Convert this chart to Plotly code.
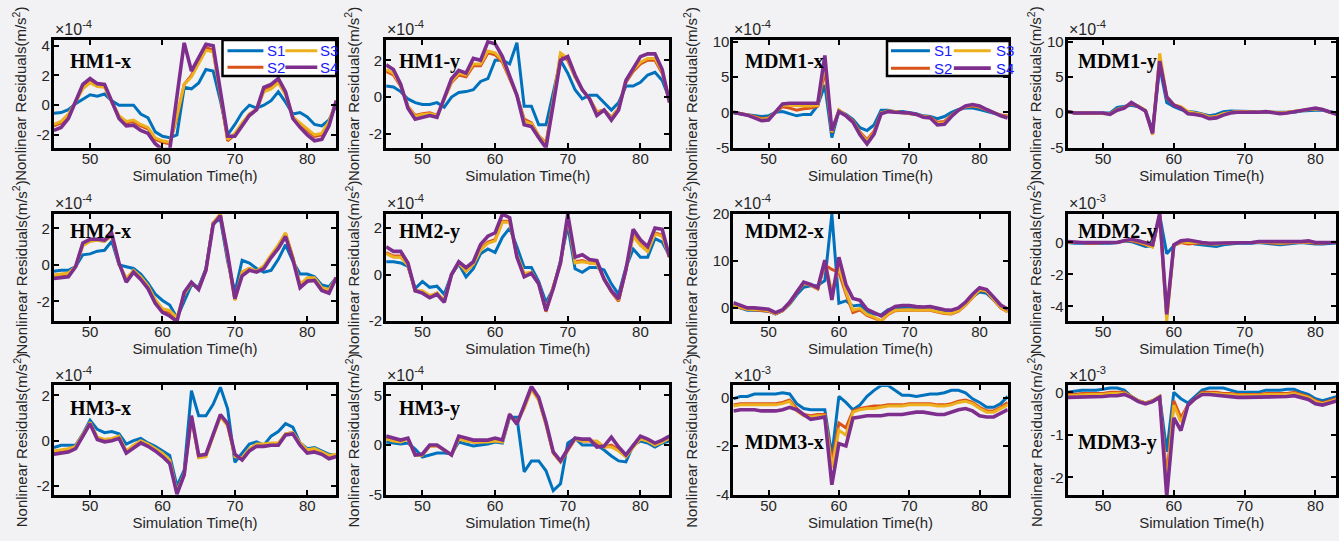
import plotly.graph_objects as go

W, H = 1339, 541

HOURS = [45, 46, 47, 48, 49, 50, 51, 52, 53, 54, 55, 56, 57, 58, 59, 60, 61, 62, 63, 64,
         65, 66, 67, 68, 69, 70, 71, 72, 73, 74, 75, 76, 77, 78, 79, 80, 81, 82, 83, 84]
SERIES_NAMES = ["S1", "S2", "S3", "S4"]

# ---------------- HM1-x (x1e-4) ----------------
HM1_X_S1 = [-0.55, -0.5, -0.3, 0.1, 0.4, 0.7, 0.6, 0.75, 0.3, 0.0, 0.0, 0.0, -0.6, -0.85, -1.8, -2.1, -2.2, -2.0, 1.2, 1.1,
            1.5, 2.4, 2.3, 0.3, -2.0, -1.3, -0.5, 0.0, -0.2, 0.0, 0.3, 0.9, 0.2, -0.6, -0.5, -0.8, -1.3, -1.4, -1.0, 0.0]
HM1_X_S2 = [-1.4, -1.2, -0.7, 0.2, 1.2, 1.6, 1.3, 1.3, 0.2, -0.8, -1.2, -1.1, -1.4, -1.6, -2.3, -2.5, -2.6, -0.8, 1.4, 2.0,
            3.0, 3.9, 3.7, 0.8, -2.4, -2.0, -1.3, -0.6, -0.3, 1.0, 1.2, 1.6, 0.8, -0.8, -1.3, -1.7, -2.1, -2.0, -1.2, 0.3]
HM1_X_S3 = [-1.3, -1.1, -0.6, 0.2, 1.1, 1.5, 1.25, 1.2, 0.2, -0.7, -1.1, -1.0, -1.3, -1.5, -2.2, -2.4, -2.5, -0.7, 1.4, 1.9,
            2.8, 3.7, 3.6, 0.8, -2.3, -1.9, -1.2, -0.6, -0.3, 0.9, 1.1, 1.5, 0.7, -0.8, -1.2, -1.6, -2.0, -1.9, -1.1, 0.3]
HM1_X_S4 = [-1.7, -1.5, -0.9, 0.2, 1.4, 1.8, 1.45, 1.4, 0.2, -0.9, -1.4, -1.35, -1.7, -1.9, -2.6, -3.0, -3.0, 0.6, 4.2, 2.3,
            3.2, 4.1, 4.0, 1.0, -2.1, -2.1, -1.4, -0.7, -0.3, 1.2, 1.4, 1.8, 0.9, -0.9, -1.5, -2.0, -2.4, -2.3, -1.4, 0.3]

# ---------------- HM1-y (x1e-4) ----------------
HM1_Y_S1 = [0.6, 0.55, 0.3, -0.1, -0.3, -0.4, -0.4, -0.3, -0.55, 0.0, 0.25, 0.3, 0.4, 0.85, 1.0, 2.0, 2.0, 1.8, 2.95, -0.5,
            -0.5, -1.5, -1.5, 0.25, 2.0, 1.3, 0.4, -0.1, 0.1, 0.1, -0.3, -0.7, -0.3, 0.6, 0.6, 0.8, 1.2, 1.35, 0.9, -0.1]
HM1_Y_S2 = [1.4, 1.2, 0.6, -0.5, -1.0, -0.9, -0.85, -1.0, -0.1, 0.8, 1.2, 1.1, 1.7, 1.7, 2.4, 2.3, 1.9, 1.0, 0.1, -1.2,
            -1.4, -2.1, -2.5, -0.2, 2.3, 2.0, 1.1, 0.4, -0.1, -0.8, -0.7, -1.1, -0.6, 0.8, 1.4, 1.8, 2.0, 2.0, 1.3, -0.2]
HM1_Y_S3 = [1.5, 1.3, 0.65, -0.5, -1.05, -0.95, -0.9, -1.0, -0.1, 0.85, 1.3, 1.2, 1.8, 1.8, 2.5, 2.4, 2.0, 1.0, 0.1, -1.3,
            -1.45, -2.1, -2.6, -0.2, 2.4, 2.1, 1.1, 0.4, -0.1, -0.85, -0.7, -1.15, -0.6, 0.85, 1.5, 1.9, 2.1, 2.1, 1.4, -0.2]
HM1_Y_S4 = [1.75, 1.5, 0.7, -0.6, -1.2, -1.1, -1.0, -1.1, -0.1, 1.0, 1.45, 1.3, 2.1, 2.0, 3.0, 2.9, 2.2, 1.1, 0.1, -1.5,
            -1.6, -2.2, -2.75, -0.4, 2.0, 2.2, 1.2, 0.4, -0.1, -1.0, -0.7, -1.25, -0.7, 0.9, 1.6, 2.2, 2.35, 2.35, 1.5, -0.3]

# ---------------- MDM1-x (x1e-4) ----------------
MDM1_X_S1 = [-0.1, -0.2, -0.3, -0.4, -0.6, -0.5, 0.0, 0.1, -0.2, -0.5, -0.3, -0.3, 1.0, 3.9, -3.6, 0.2, -0.3, -1.0, -2.2, -2.6,
             -1.8, 0.3, 0.3, 0.1, 0.1, 0.0, -0.2, -0.5, -0.6, -0.9, -0.6, 0.0, 0.4, 0.6, 0.6, 0.4, 0.1, -0.2, -0.4, -0.6]
MDM1_X_S2 = [0.0, -0.2, -0.35, -0.6, -0.9, -0.8, 0.0, 0.8, 0.6, 0.3, 0.5, 0.6, 0.9, 6.0, -2.9, 0.3, -0.4, -1.2, -2.8, -3.9,
             -2.7, -0.1, 0.2, 0.1, 0.0, -0.1, -0.3, -0.6, -0.7, -1.4, -1.3, -0.4, 0.3, 0.8, 0.9, 0.7, 0.3, -0.1, -0.4, -0.5]
MDM1_X_S3 = [0.0, -0.2, -0.35, -0.7, -1.0, -0.9, 0.0, 1.0, 1.0, 0.9, 0.9, 0.9, 1.0, 7.0, -2.8, 0.3, -0.4, -1.3, -3.0, -4.1,
             -2.9, -0.1, 0.2, 0.1, 0.0, -0.1, -0.3, -0.6, -0.75, -1.6, -1.5, -0.5, 0.3, 0.8, 1.0, 0.8, 0.35, -0.1, -0.45, -0.6]
MDM1_X_S4 = [0.0, -0.2, -0.4, -0.8, -1.2, -1.1, 0.0, 1.2, 1.3, 1.3, 1.2, 1.2, 1.3, 8.1, -2.6, 0.1, -0.5, -1.4, -3.2, -4.5,
             -3.1, -0.2, 0.1, 0.0, 0.0, -0.1, -0.3, -0.7, -0.8, -1.8, -1.7, -0.6, 0.3, 0.9, 1.1, 0.9, 0.4, -0.1, -0.5, -0.8]

# ---------------- MDM1-y (x1e-4) ----------------
MDM1_Y_S1 = [0.1, -0.1, -0.1, -0.1, -0.1, -0.1, -0.1, 0.7, 0.8, 1.0, 0.8, 0.2, -2.5, 6.5, 1.4, 0.8, 0.4, 0.1, 0.0, -0.2,
             -0.5, -0.3, 0.1, 0.2, 0.2, 0.2, 0.1, 0.0, 0.0, 0.0, 0.0, -0.1, 0.0, 0.2, 0.3, 0.3, 0.3, 0.1, -0.1, -0.3]
MDM1_Y_S2 = [0.1, -0.1, -0.1, -0.1, -0.1, -0.1, -0.2, 0.4, 0.7, 1.2, 0.8, 0.2, -2.9, 7.8, 2.0, 1.0, 0.7, 0.0, -0.1, -0.3,
             -0.7, -0.6, -0.2, 0.0, 0.1, 0.1, 0.0, 0.0, 0.1, 0.0, -0.1, 0.0, 0.1, 0.3, 0.4, 0.5, 0.4, 0.0, -0.2, -0.4]
MDM1_Y_S3 = [0.1, -0.1, -0.1, -0.1, -0.1, -0.1, -0.2, 0.4, 0.7, 1.3, 0.9, 0.3, -3.2, 8.4, 2.2, 1.1, 0.8, 0.1, -0.1, -0.3,
             -0.7, -0.6, -0.2, 0.0, 0.1, 0.1, 0.0, 0.0, 0.1, 0.0, -0.1, 0.0, 0.1, 0.3, 0.4, 0.5, 0.4, 0.0, -0.2, -0.4]
MDM1_Y_S4 = [0.1, -0.1, -0.1, -0.1, -0.1, -0.1, -0.3, 0.3, 0.6, 1.4, 0.8, 0.2, -3.0, 7.3, 2.2, 1.0, 0.6, -0.2, -0.3, -0.5,
             -0.9, -0.8, -0.4, -0.1, 0.0, 0.0, -0.1, 0.0, 0.1, -0.1, -0.2, -0.1, 0.1, 0.3, 0.5, 0.6, 0.4, 0.0, -0.3, -0.4]

# ---------------- HM2-x (x1e-4) ----------------
HM2_X_S1 = [-0.35, -0.3, -0.3, -0.1, 0.55, 0.6, 0.75, 0.8, 1.3, 0.0, -0.1, -0.2, -0.5, -1.0, -1.6, -1.95, -2.2, -2.9, -2.0, -1.1,
            -1.2, -0.2, 2.3, 2.5, 0.2, -1.5, 0.25, 0.1, -0.2, -0.4, -0.3, 0.3, 1.1, 0.2, -0.5, -0.5, -0.65, -1.1, -1.2, -0.7]
HM2_X_S2 = [-0.6, -0.55, -0.5, -0.1, 1.1, 1.3, 1.35, 1.3, 1.6, 0.05, -0.8, -0.35, -0.7, -1.2, -2.0, -2.5, -2.6, -3.0, -1.6, -1.0,
            -1.3, -0.3, 2.3, 2.75, 0.5, -1.9, -0.4, -0.2, -0.35, -0.1, 0.5, 1.0, 1.7, 0.4, -1.1, -0.75, -0.75, -1.3, -1.4, -0.7]
HM2_X_S3 = [-0.55, -0.5, -0.45, -0.1, 1.05, 1.3, 1.35, 1.3, 1.65, 0.05, -0.75, -0.3, -0.65, -1.15, -1.9, -2.4, -2.5, -2.9, -1.6, -1.0,
            -1.3, -0.3, 2.3, 2.8, 0.5, -1.95, -0.4, -0.2, -0.35, -0.05, 0.55, 1.1, 1.75, 0.45, -1.1, -0.7, -0.7, -1.25, -1.35, -0.7]
HM2_X_S4 = [-0.75, -0.7, -0.65, -0.1, 1.2, 1.4, 1.4, 1.35, 1.7, 0.1, -0.95, -0.4, -0.8, -1.3, -2.1, -2.6, -2.8, -3.1, -1.5, -0.95,
            -1.35, -0.3, 2.2, 2.7, 0.6, -1.85, -0.6, -0.3, -0.4, -0.2, 0.4, 0.9, 1.55, 0.3, -1.25, -0.9, -0.85, -1.4, -1.55, -0.7]

# ---------------- HM2-y (x1e-4) ----------------
HM2_Y_S1 = [0.55, 0.55, 0.5, 0.35, -0.6, -0.3, -0.55, -0.5, -0.85, 0.0, 0.45, -0.1, 0.25, 0.9, 1.1, 0.95, 1.6, 2.0, 1.2, 0.3,
            0.3, -0.3, -1.2, -0.6, 0.6, 2.1, 0.25, 0.1, 0.3, 0.3, 0.2, -0.4, -0.85, 0.3, 1.1, 0.75, 0.75, 1.55, 1.4, 0.8]
HM2_Y_S2 = [0.95, 0.8, 0.8, 0.4, -0.7, -0.75, -0.95, -0.8, -1.15, 0.0, 0.5, 0.15, 0.45, 1.1, 1.4, 1.5, 2.3, 2.3, 0.8, 0.0,
            0.1, -0.4, -1.6, -0.6, 0.5, 2.5, 0.55, 0.6, 0.5, 0.5, -0.2, -0.75, -1.15, 0.2, 1.7, 1.3, 1.0, 1.8, 1.7, 0.75]
HM2_Y_S3 = [0.9, 0.75, 0.75, 0.4, -0.7, -0.7, -0.9, -0.8, -1.1, 0.0, 0.5, 0.15, 0.45, 1.05, 1.35, 1.45, 2.25, 2.25, 0.85, 0.05,
            0.1, -0.4, -1.5, -0.55, 0.5, 2.5, 0.5, 0.55, 0.5, 0.45, -0.15, -0.7, -1.1, 0.2, 1.65, 1.25, 1.0, 1.75, 1.65, 0.75]
HM2_Y_S4 = [1.2, 1.0, 1.0, 0.5, -0.7, -0.8, -1.0, -0.85, -1.2, 0.0, 0.55, 0.3, 0.55, 1.3, 1.65, 1.8, 2.6, 2.45, 0.75, -0.1,
            0.05, -0.4, -1.55, -0.6, 0.5, 2.6, 0.75, 0.85, 0.65, 0.6, -0.2, -0.7, -1.05, 0.2, 1.95, 1.5, 1.2, 2.0, 1.95, 0.75]

# ---------------- MDM2-x (x1e-4) ----------------
MDM2_X_S1 = [0.5, 0.0, -0.5, -0.5, -0.6, -0.7, -1.3, -0.6, 0.8, 2.8, 4.4, 4.7, 4.8, 5.8, 20.0, 1.0, 1.5, 0.4, 0.6, -0.8,
             -1.3, -1.5, -0.4, 0.0, 0.1, 0.1, 0.0, -0.1, 0.0, -0.5, -0.8, -0.8, -0.3, 0.8, 2.4, 3.4, 3.1, 1.7, 0.1, -0.7]
MDM2_X_S2 = [0.6, 0.0, -0.3, -0.4, -0.5, -0.7, -1.3, -0.6, 0.9, 3.2, 5.2, 4.8, 4.0, 9.2, 8.2, 7.6, 3.0, -1.0, -0.4, -1.6,
             -2.2, -2.8, -1.4, -0.6, -0.5, -0.5, -0.6, -0.6, -0.5, -0.9, -1.2, -1.3, -0.7, 0.6, 2.3, 3.8, 3.5, 1.8, 0.0, -0.9]
MDM2_X_S3 = [0.7, 0.1, -0.3, -0.3, -0.4, -0.6, -1.2, -0.5, 1.0, 3.3, 5.3, 4.9, 4.1, 9.8, 3.5, 8.8, 3.5, -0.5, -0.1, -1.4,
             -2.0, -2.8, -1.3, -0.5, -0.4, -0.4, -0.5, -0.5, -0.4, -0.8, -1.1, -1.2, -0.6, 0.7, 2.4, 3.9, 3.6, 1.9, 0.1, -0.8]
MDM2_X_S4 = [1.1, 0.5, 0.0, 0.0, -0.2, -0.3, -1.0, -0.4, 1.2, 3.5, 5.5, 5.0, 4.3, 10.2, 1.7, 10.8, 5.0, 2.0, 1.6, -0.3,
             -1.0, -1.7, -0.6, 0.3, 0.5, 0.5, 0.3, 0.2, 0.3, -0.1, -0.4, -0.5, 0.0, 1.2, 2.9, 4.3, 3.9, 2.3, 0.6, -0.3]

# ---------------- MDM2-y (x1e-3) ----------------
MDM2_Y_S1 = [0.0, -0.05, -0.05, -0.05, -0.05, -0.05, -0.05, 0.0, 0.1, 0.05, -0.1, -0.25, -0.2, 1.7, -0.7, -0.2, 0.05, 0.0, -0.1, -0.15,
             -0.2, -0.25, -0.15, -0.1, -0.05, -0.05, -0.05, 0.0, -0.05, -0.1, -0.15, -0.1, -0.05, 0.0, -0.05, -0.1, -0.1, -0.05, 0.0, 0.0]
MDM2_Y_S2 = [0.0, 0.0, 0.0, -0.05, -0.05, 0.0, 0.0, 0.0, 0.1, 0.1, 0.0, -0.15, -0.25, 1.75, -4.6, -0.2, 0.0, -0.1, -0.05, -0.05,
             -0.1, -0.1, -0.05, -0.05, 0.0, 0.0, 0.0, 0.0, 0.0, -0.05, -0.05, -0.05, 0.0, 0.0, 0.0, -0.05, -0.05, 0.0, 0.0, 0.0]
MDM2_Y_S3 = [0.0, 0.0, 0.0, 0.0, 0.0, 0.0, 0.0, 0.0, 0.1, 0.15, 0.05, -0.1, -0.3, 1.8, -4.95, -0.2, 0.05, 0.0, 0.0, 0.0,
             -0.05, -0.1, -0.05, 0.0, 0.0, 0.0, 0.0, 0.0, 0.0, 0.0, -0.05, 0.0, 0.0, 0.0, 0.05, 0.0, 0.0, 0.0, 0.0, 0.0]
MDM2_Y_S4 = [0.05, 0.0, 0.0, 0.0, 0.0, 0.0, 0.0, 0.0, 0.1, 0.2, 0.1, -0.05, -0.15, 1.8, -4.5, -0.15, 0.1, 0.15, 0.05, 0.0,
             -0.05, -0.05, 0.0, 0.0, 0.0, 0.0, 0.0, 0.05, 0.05, 0.0, 0.0, 0.0, 0.0, 0.05, 0.1, 0.0, 0.0, 0.0, 0.05, 0.0]

# ---------------- HM3-x (x1e-4) ----------------
HM3_X_S1 = [-0.3, -0.2, -0.2, -0.2, 0.3, 0.9, 0.5, 0.35, 0.4, 0.3, -0.15, 0.0, 0.1, -0.1, -0.25, -0.45, -0.65, -2.0, -1.3, 2.2,
            1.1, 1.1, 1.6, 2.35, 1.4, -0.95, -0.55, -0.15, -0.05, -0.2, 0.2, 0.4, 0.75, 0.6, -0.1, -0.35, -0.3, -0.45, -0.6, -0.65]
HM3_X_S2 = [-0.5, -0.45, -0.4, -0.3, 0.2, 0.8, 0.1, 0.0, 0.05, 0.15, -0.5, -0.25, -0.05, -0.2, -0.4, -0.6, -0.9, -2.3, -1.45, 1.05,
            -0.7, -0.65, 0.25, 1.1, 0.7, -0.65, -0.8, -0.4, -0.2, -0.2, -0.15, -0.15, 0.3, 0.35, -0.15, -0.45, -0.4, -0.55, -0.7, -0.65]
HM3_X_S3 = [-0.45, -0.4, -0.35, -0.25, 0.25, 0.8, 0.15, 0.05, 0.1, 0.2, -0.45, -0.2, 0.0, -0.15, -0.35, -0.55, -0.85, -2.25, -1.45, 1.0,
            -0.75, -0.7, 0.2, 1.05, 0.65, -0.7, -0.75, -0.35, -0.15, -0.15, -0.1, -0.1, 0.3, 0.35, -0.1, -0.4, -0.35, -0.5, -0.65, -0.6]
HM3_X_S4 = [-0.6, -0.55, -0.5, -0.35, 0.2, 0.75, 0.05, -0.05, 0.0, 0.1, -0.55, -0.3, -0.1, -0.25, -0.45, -0.7, -1.0, -2.35, -1.5, 1.1,
            -0.65, -0.6, 0.3, 1.15, 0.75, -0.6, -0.85, -0.45, -0.25, -0.25, -0.2, -0.2, 0.25, 0.3, -0.2, -0.55, -0.5, -0.6, -0.8, -0.7]

# ---------------- HM3-y (x1e-4) ----------------
HM3_Y_S1 = [0.3, 0.2, 0.1, 0.2, -0.4, -1.2, -1.0, -0.8, -0.8, -0.9, 0.3, 0.1, -0.1, 0.0, 0.1, 0.3, 0.2, 2.8, 2.8, -2.7,
            -1.6, -1.6, -2.6, -4.6, -3.9, 0.2, 0.7, 0.0, 0.0, 0.0, -0.5, -1.1, -1.6, -1.7, 0.0, 0.4, 0.2, -0.2, 0.2, 0.4]
HM3_Y_S2 = [0.7, 0.5, 0.4, 0.6, -1.0, -1.0, -0.1, -0.1, -0.5, -1.0, 0.7, 0.5, 0.3, 0.3, 0.4, 0.5, 0.4, 3.0, 2.3, 3.8,
            5.7, 4.6, 2.1, -0.8, -1.7, -0.5, 0.6, 0.4, 0.4, 0.3, -0.2, 0.0, -0.5, -1.1, -0.2, 0.7, 0.5, 0.0, 0.4, 0.7]
HM3_Y_S3 = [0.6, 0.4, 0.3, 0.6, -1.0, -1.0, -0.1, -0.1, -0.5, -1.0, 0.6, 0.4, 0.3, 0.3, 0.3, 0.4, 0.3, 2.9, 2.3, 3.7,
            5.6, 4.5, 2.0, -0.8, -1.7, -0.5, 0.6, 0.4, 0.4, 0.4, -0.2, -0.2, -0.6, -1.2, -0.2, 0.6, 0.4, 0.0, 0.3, 0.7]
HM3_Y_S4 = [0.9, 0.7, 0.5, 0.7, -1.0, -0.9, 0.0, 0.0, -0.5, -1.0, 0.9, 0.7, 0.5, 0.5, 0.5, 0.7, 0.5, 3.1, 2.1, 4.0,
            5.9, 4.8, 2.3, -0.7, -1.6, -0.4, 0.7, 0.6, 0.6, -0.2, -0.1, 0.8, -0.2, -1.0, -0.1, 0.9, 0.6, 0.2, 0.5, 0.9]

# ---------------- MDM3-x (x1e-3) ----------------
MDM3_X_S1 = [-0.05, 0.05, 0.05, 0.15, 0.15, 0.15, 0.15, 0.2, 0.15, -0.25, -0.45, -0.5, -0.5, -0.5, -2.4, 0.05, -0.2, -0.5, -0.3, 0.05,
             0.3, 0.5, 0.5, 0.3, 0.1, 0.1, 0.05, 0.1, 0.15, 0.15, 0.2, 0.3, 0.3, 0.2, -0.05, -0.2, -0.4, -0.4, -0.25, 0.05]
MDM3_X_S2 = [-0.3, -0.25, -0.25, -0.25, -0.25, -0.25, -0.25, -0.2, -0.1, -0.45, -0.7, -0.75, -0.7, -0.7, -2.7, -1.05, -1.25, -0.55, -0.45, -0.4,
             -0.35, -0.35, -0.3, -0.3, -0.3, -0.25, -0.25, -0.25, -0.25, -0.3, -0.3, -0.25, -0.15, -0.1, -0.2, -0.4, -0.55, -0.55, -0.4, -0.2]
MDM3_X_S3 = [-0.35, -0.3, -0.3, -0.3, -0.3, -0.3, -0.3, -0.25, -0.15, -0.55, -0.75, -0.8, -0.75, -0.75, -2.9, -1.35, -1.55, -0.6, -0.5, -0.45,
             -0.45, -0.4, -0.35, -0.35, -0.35, -0.3, -0.3, -0.3, -0.3, -0.35, -0.35, -0.3, -0.2, -0.15, -0.25, -0.45, -0.6, -0.6, -0.45, -0.3]
MDM3_X_S4 = [-0.55, -0.5, -0.5, -0.5, -0.55, -0.55, -0.55, -0.5, -0.4, -0.5, -0.7, -0.9, -0.85, -0.8, -3.6, -1.9, -2.0, -0.85, -0.8, -0.75,
             -0.75, -0.75, -0.7, -0.7, -0.7, -0.65, -0.6, -0.6, -0.65, -0.7, -0.7, -0.6, -0.5, -0.45, -0.55, -0.75, -0.8, -0.8, -0.65, -0.5]

# ---------------- MDM3-y (x1e-3) ----------------
MDM3_Y_S1 = [0.0, 0.03, 0.05, 0.05, 0.05, 0.07, 0.1, 0.1, 0.05, -0.1, -0.2, -0.25, -0.2, -0.1, -1.4, 0.0, -0.15, -0.25, -0.1, 0.05,
             0.1, 0.1, 0.1, 0.05, 0.0, 0.0, 0.0, 0.0, 0.05, 0.05, 0.05, 0.07, 0.07, 0.0, -0.05, -0.15, -0.2, -0.15, -0.1, -0.05]
MDM3_Y_S2 = [-0.05, -0.05, -0.03, -0.03, -0.03, -0.03, 0.0, 0.0, 0.0, -0.1, -0.2, -0.25, -0.2, -0.1, -2.0, -0.2, -0.6, -0.3, -0.15, 0.0,
             0.0, 0.0, -0.03, -0.03, -0.05, -0.05, -0.05, -0.05, -0.03, -0.03, -0.03, -0.03, 0.0, -0.05, -0.1, -0.2, -0.25, -0.2, -0.15, -0.1]
MDM3_Y_S3 = [-0.08, -0.07, -0.05, -0.05, -0.05, -0.05, -0.03, -0.03, -0.02, -0.1, -0.2, -0.25, -0.2, -0.1, -2.2, -0.3, -0.7, -0.3, -0.15, -0.03,
             -0.03, -0.03, -0.05, -0.05, -0.07, -0.07, -0.07, -0.07, -0.05, -0.05, -0.05, -0.05, -0.03, -0.07, -0.12, -0.22, -0.27, -0.22, -0.17, -0.12]
MDM3_Y_S4 = [-0.12, -0.12, -0.1, -0.1, -0.1, -0.1, -0.08, -0.08, -0.05, -0.12, -0.22, -0.27, -0.22, -0.12, -2.45, -0.6, -0.9, -0.3, -0.15, -0.05,
             -0.05, -0.07, -0.1, -0.12, -0.12, -0.12, -0.12, -0.12, -0.12, -0.12, -0.1, -0.1, -0.08, -0.12, -0.17, -0.27, -0.3, -0.25, -0.2, -0.15]

X_TICKS = [50, 60, 70, 80]

# ---------------- styling / layout ----------------
COLORS = ["#0072BD", "#D95319", "#EDB120", "#7E2F8E"]
WIDTHS = [3, 3, 3, 3.6]
BG = "#f2f2f4"
TXT = "#262626"

COL_PX = [(54, 337), (387, 671), (735, 1010), (1070, 1339)]
ROW_PX = [(33, 144), (212, 323), (389, 502)]
XRANGES = [[45, 84], [45, 84], [45, 84], [45, 82.9]]

PANELS = [
    dict(name="HM1-x", r=0, c=0, data=[HM1_X_S1, HM1_X_S2, HM1_X_S3, HM1_X_S4], expo="-4", yr=[-2.87, 4.39], yt=[-2, 0, 2, 4], lab=(68, 55)),
    dict(name="HM1-y", r=0, c=1, data=[HM1_Y_S1, HM1_Y_S2, HM1_Y_S3, HM1_Y_S4], expo="-4", yr=[-2.75, 3.1], yt=[-2, 0, 2], lab=(398, 55)),
    dict(name="MDM1-x", r=0, c=2, data=[MDM1_X_S1, MDM1_X_S2, MDM1_X_S3, MDM1_X_S4], expo="-4", yr=[-5.05, 10.3], yt=[-5, 0, 5, 10], lab=(745, 55)),
    dict(name="MDM1-y", r=0, c=3, data=[MDM1_Y_S1, MDM1_Y_S2, MDM1_Y_S3, MDM1_Y_S4], expo="-4", yr=[-5.05, 10.3], yt=[-5, 0, 5, 10], lab=(1078, 55)),
    dict(name="HM2-x", r=1, c=0, data=[HM2_X_S1, HM2_X_S2, HM2_X_S3, HM2_X_S4], expo="-4", yr=[-3.1, 2.8], yt=[-2, 0, 2], lab=(68, 230)),
    dict(name="HM2-y", r=1, c=1, data=[HM2_Y_S1, HM2_Y_S2, HM2_Y_S3, HM2_Y_S4], expo="-4", yr=[-2.02, 2.62], yt=[-2, 0, 2], lab=(398, 230)),
    dict(name="MDM2-x", r=1, c=2, data=[MDM2_X_S1, MDM2_X_S2, MDM2_X_S3, MDM2_X_S4], expo="-4", yr=[-2.9, 20.1], yt=[0, 10, 20], lab=(745, 230)),
    dict(name="MDM2-y", r=1, c=3, data=[MDM2_Y_S1, MDM2_Y_S2, MDM2_Y_S3, MDM2_Y_S4], expo="-3", yr=[-4.95, 1.8], yt=[-4, -2, 0], lab=(1078, 230)),
    dict(name="HM3-x", r=2, c=0, data=[HM3_X_S1, HM3_X_S2, HM3_X_S3, HM3_X_S4], expo="-4", yr=[-2.4, 2.43], yt=[-2, 0, 2], lab=(68, 412)),
    dict(name="HM3-y", r=2, c=1, data=[HM3_Y_S1, HM3_Y_S2, HM3_Y_S3, HM3_Y_S4], expo="-4", yr=[-5.05, 6.0], yt=[-5, 0, 5], lab=(398, 413)),
    dict(name="MDM3-x", r=2, c=2, data=[MDM3_X_S1, MDM3_X_S2, MDM3_X_S3, MDM3_X_S4], expo="-3", yr=[-4.03, 0.5], yt=[-4, -2, 0], lab=(745, 447)),
    dict(name="MDM3-y", r=2, c=3, data=[MDM3_Y_S1, MDM3_Y_S2, MDM3_Y_S3, MDM3_Y_S4], expo="-3", yr=[-2.42, 0.16], yt=[-2, -1, 0], lab=(1078, 448)),
]


def px(x):
    return x / W


def py(y):
    return 1 - y / H


def fmt(v):
    return str(v)


fig = go.Figure()
layout = dict(
    width=W, height=H, margin=dict(l=0, r=0, t=0, b=0, pad=0),
    paper_bgcolor=BG, plot_bgcolor=BG, showlegend=False,
    font=dict(family="Liberation Sans, Arial, sans-serif", size=15, color=TXT),
)
annotations = []
shapes = []

axis_common = dict(
    showline=True, linewidth=3, linecolor="black", mirror="ticks",
    ticks="inside", ticklen=5, tickwidth=2, tickcolor="black",
    showgrid=False, zeroline=False,
    tickfont=dict(family="Liberation Sans, Arial, sans-serif", size=15, color=TXT),
)

for i, p in enumerate(PANELS, start=1):
    xa = "x" if i == 1 else f"x{i}"
    ya = "y" if i == 1 else f"y{i}"
    xkey = "xaxis" if i == 1 else f"xaxis{i}"
    ykey = "yaxis" if i == 1 else f"yaxis{i}"
    c0, c1 = COL_PX[p["c"]]
    r0, r1 = ROW_PX[p["r"]]
    layout[xkey] = dict(
        axis_common, domain=[px(c0), px(c1)], anchor=ya, range=XRANGES[p["c"]],
        tickvals=X_TICKS, ticktext=[str(t) for t in X_TICKS], ticklabelstandoff=-5,
        title=dict(text="Simulation Time(h)", font=dict(size=15, color=TXT), standoff=2),
    )
    layout[ykey] = dict(
        axis_common, domain=[py(r1), py(r0)], anchor=xa, range=p["yr"],
        tickvals=p["yt"], ticktext=[fmt(t) for t in p["yt"]], ticklabelstandoff=-2,
    )
    for s in range(4):
        fig.add_trace(go.Scatter(
            x=HOURS, y=p["data"][s], mode="lines", name=SERIES_NAMES[s],
            line=dict(color=COLORS[s], width=WIDTHS[s]),
            xaxis=xa, yaxis=ya,
        ))
    # exponent label
    annotations.append(dict(
        xref="paper", yref="paper", x=px(c0), y=py(r0 - 1), xanchor="left", yanchor="bottom",
        text="\u00d710<sup>" + p["expo"] + "</sup>", showarrow=False,
        font=dict(size=16, color=TXT), borderpad=0,
    ))
    # panel label
    annotations.append(dict(
        xref="paper", yref="paper", x=px(p["lab"][0]), y=py(p["lab"][1]), xanchor="left", yanchor="middle",
        text="<b>" + p["name"] + "</b>", showarrow=False,
        font=dict(family="Liberation Serif, Times New Roman, serif", size=20, color="black"),
    ))

# y-axis titles
YT_X = [20, 353, 692, 1037]
for c in range(4):
    for r in range(3):
        r0, r1 = ROW_PX[r]
        annotations.append(dict(
            xref="paper", yref="paper", x=px(YT_X[c]), y=py((r0 + r1) / 2),
            xanchor="center", yanchor="middle", textangle=-90,
            text="Nonlinear Residuals(m/s<sup>2</sup>)", showarrow=False,
            font=dict(size=15, color=TXT),
        ))

# legend boxes (top-right of HM1-x and MDM1-x panels)
LEGENDS = [
    dict(box=(223, 337, 33, 70), a=(228, 264, 267), b=(286, 318, 320), rows=(44, 61)),
    dict(box=(889, 1012, 34, 70), a=(893, 932, 935), b=(956, 993, 997), rows=(44, 62)),
]
ORDER = [(0, "a", 0), (2, "b", 0), (1, "a", 1), (3, "b", 1)]
for lg in LEGENDS:
    x0, x1, y0, y1 = lg["box"]
    shapes.append(dict(type="rect", xref="paper", yref="paper", x0=px(x0), x1=px(x1), y0=py(y1), y1=py(y0),
                       fillcolor="white", line=dict(color="black", width=2.5), layer="above"))
    for s, colk, rowi in ORDER:
        lx0, lx1, tx = lg[colk]
        yy = lg["rows"][rowi]
        shapes.append(dict(type="line", xref="paper", yref="paper", x0=px(lx0), x1=px(lx1), y0=py(yy), y1=py(yy),
                           line=dict(color=COLORS[s], width=WIDTHS[s]), layer="above"))
        annotations.append(dict(xref="paper", yref="paper", x=px(tx), y=py(yy), xanchor="left", yanchor="middle",
                                text=SERIES_NAMES[s], showarrow=False,
                                font=dict(size=15, color="#1a1aff"), borderpad=0))

layout["annotations"] = annotations
layout["shapes"] = shapes
fig.update_layout(**layout)
fig.write_html("out.html")
